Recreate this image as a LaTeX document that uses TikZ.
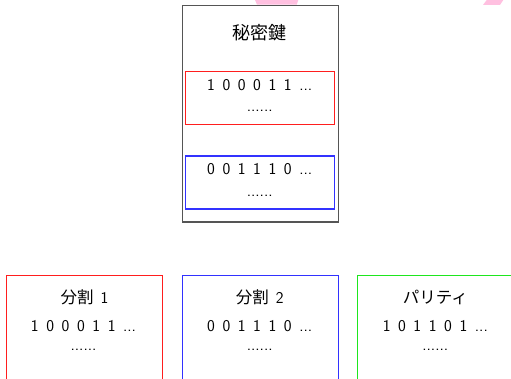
\documentclass[tikz,border=0pt]{standalone}
\usepackage{fontspec}
\newfontfamily\jp{Noto Sans CJK JP}
\definecolor{keygray}{RGB}{85,85,85}
\definecolor{pr}{RGB}{255,30,30}
\definecolor{pb}{RGB}{50,50,255}
\definecolor{pg}{RGB}{30,230,30}
\definecolor{pinkish}{RGB}{255,192,224}
\newcommand\widesp[1]{\spaceskip=#1\relax}
\tikzset{
  txt/.style={inner sep=0pt, anchor=base, font=\fontsize{16.5}{18}\sffamily\selectfont, execute at begin node={\widesp{7.6pt}}},
  dots/.style={inner sep=0pt, anchor=base, font=\fontsize{16.5}{18}\sffamily\selectfont\addfontfeature{LetterSpace=2}},
  ttl/.style={inner sep=0pt, anchor=base, font=\fontsize{16.5}{18}\sffamily\selectfont, execute at begin node={\widesp{7pt}}},
  keyttl/.style={inner sep=0pt, anchor=center, font=\fontsize{18}{20}\jp\selectfont},
  box/.style={draw=#1, line width=1.1pt, anchor=north west, inner sep=0pt},
}
\begin{document}
\begin{tikzpicture}[x=1pt,y=1pt]
\useasboundingbox (0,0) rectangle (511,-379);
\clip (0,0) rectangle (511,-379);
% pink slivers
\fill[pinkish] (255,0) -- (298.3,0) -- (296.7,-4.7) -- (257,-4.7) -- cycle;
\fill[pinkish] (486.7,0) -- (503.3,0) -- (500,-5) -- (483,-5) -- cycle;
% key box
\node[box=keygray, line width=1.3pt, minimum width=156pt, minimum height=216.5pt] (key) at (181.5,-5) {};
\node[keyttl] (keyt) at (259.5,-32.7) {秘密鍵};
\node[box=pr, minimum width=148.7pt, minimum height=53pt] (kr) at (185.3,-71) {};
\node[txt] (kr1) at (259.7,-91) {1 0 0 0 1 1 ...};
\node[dots] (kr2) at (259.7,-112) {......};
\node[box=pb, minimum width=148.7pt, minimum height=53pt] (kb) at (185.3,-155.5) {};
\node[txt] (kb1) at (259.7,-174.5) {0 0 1 1 1 0 ...};
\node[dots] (kb2) at (259.7,-196.5) {......};
% bottom boxes
\node[box=pr, minimum width=156.3pt, minimum height=130pt] (s1) at (6,-275) {};
\node[box=pb, minimum width=156pt, minimum height=130pt] (s2) at (181.7,-275) {};
\node[box=pg, minimum width=156pt, minimum height=130pt] (s3) at (357.3,-275) {};
\node[ttl] (s1t) at (84.5,-303.5) {{\jp 分割} 1};
\node[ttl] (s2t) at (259.7,-303.5) {{\jp 分割} 2};
\node[ttl] (s3t) at (435.3,-303.5) {{\jp パリティ}};
\node[txt] (s1a) at (83.5,-331.7) {1 0 0 0 1 1 ...};
\node[txt] (s2a) at (259.7,-331.7) {0 0 1 1 1 0 ...};
\node[txt] (s3a) at (435.3,-331.7) {1 0 1 1 0 1 ...};
\node[dots] (s1b) at (83.5,-350.5) {......};
\node[dots] (s2b) at (259.7,-350.5) {......};
\node[dots] (s3b) at (435.3,-350.5) {......};
\end{tikzpicture}
\end{document}
